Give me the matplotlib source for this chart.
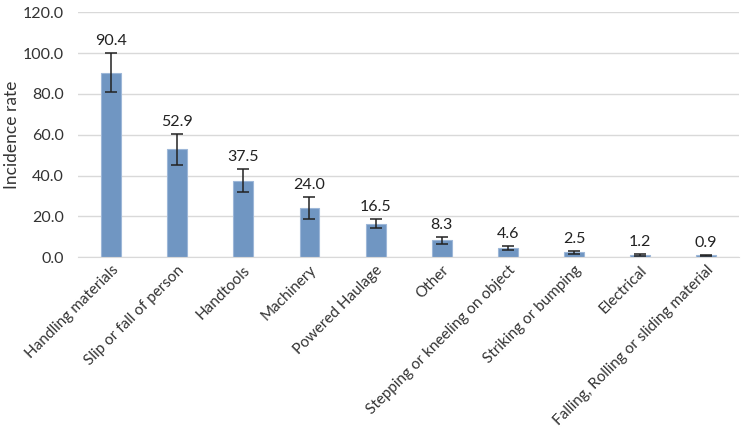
import numpy as np
import matplotlib.pyplot as plt

plt.rcParams['font.family'] = ['Lato', 'DejaVu Sans']

# Данные
categories = ['Handling materials', 'Slip or fall of person', 'Handtools', 'Machinery',
              'Powered Haulage', 'Other', 'Stepping or kneeling on object',
              'Striking or bumping', 'Electrical', 'Falling, Rolling or sliding material']
rates = [90.4, 52.9, 37.5, 24.0, 16.5, 8.3, 4.6, 2.5, 1.2, 0.9]
errors = [9.7, 7.5, 5.5, 5.3, 2.3, 1.7, 0.9, 0.7, 0.4, 0.3]

fig = plt.figure(figsize=(7.43, 4.36), dpi=100)
ax = fig.add_axes([0.105, 0.41, 0.89, 0.562])

x = np.arange(len(categories))
ax.bar(x, rates, width=0.3, color='#7096C2', edgecolor='#9DB7D8', linewidth=0.8, zorder=2)
ax.errorbar(x, rates, yerr=errors, fmt='none', ecolor='#222222', elinewidth=1.1,
            capsize=4, capthick=1.1, zorder=3)

for xi, v, e in zip(x, rates, errors):
    ax.text(xi, v + e + 2.5, f'{v:.1f}', ha='center', va='bottom', fontsize=11.5, color='#222222')

ax.set_ylim(0, 120)
ax.set_xlim(-0.5, len(categories) - 0.5)
ax.set_yticks(np.arange(0, 121, 20))
ax.set_yticklabels([f'{t:.1f}' for t in np.arange(0, 121, 20)], fontsize=11.5, color='#333333')
ax.set_xticks(x)
ax.set_xticklabels(categories, rotation=45, ha='right', rotation_mode='anchor',
                   fontsize=11, color='#333333')
ax.tick_params(axis='x', length=0, pad=4)
ax.tick_params(axis='y', length=0, pad=10)
ax.set_ylabel('Incidence rate', fontsize=12.5, color='#333333')
ax.yaxis.set_label_coords(-0.088, 0.5)

ax.grid(axis='y', color='#D9D9D9', linewidth=1, zorder=0)
for s in ['top', 'right', 'left']:
    ax.spines[s].set_visible(False)
ax.spines['bottom'].set_color('#D9D9D9')

fig.savefig('out.png', dpi=100)
